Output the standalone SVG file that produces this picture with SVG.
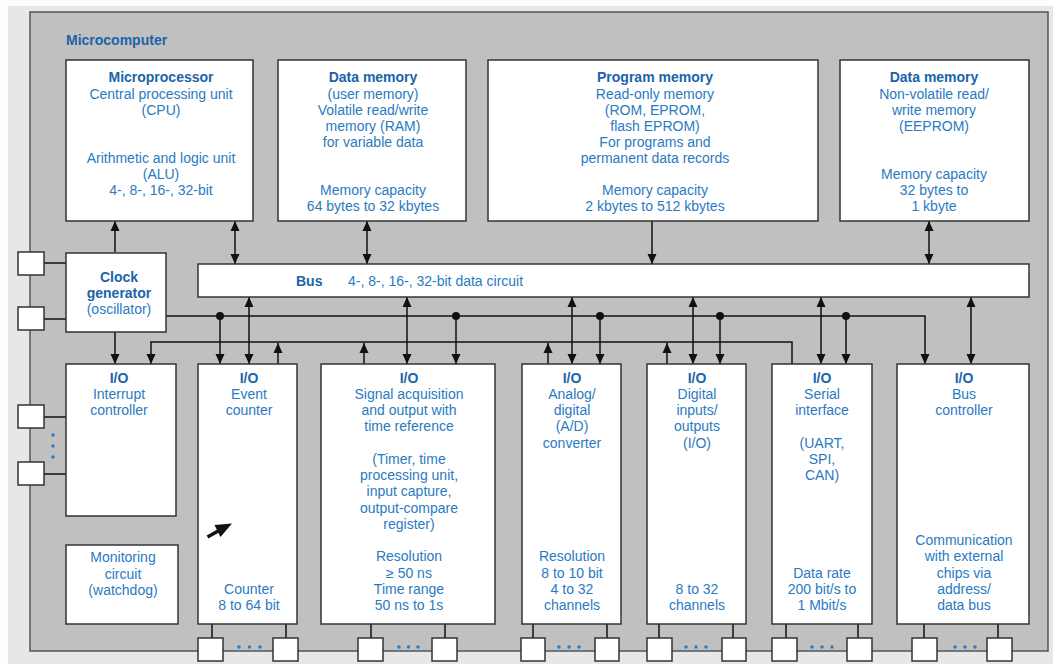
<svg xmlns="http://www.w3.org/2000/svg" width="1053" height="664" viewBox="0 0 1053 664">
<style>
.box{fill:#fff;stroke:#333;stroke-width:1.5}
.pin{fill:#fff;stroke:#333;stroke-width:1.5}
.t{font-family:"Liberation Sans",Arial,Helvetica,sans-serif;font-size:14px;fill:#2a7ac2;text-anchor:middle}
.b{font-weight:bold;fill:#1b63ab}
.s{text-anchor:start}
.c{stroke:#111;stroke-width:1.5;fill:none}
.da{marker-start:url(#ah);marker-end:url(#ah)}
.ea{marker-end:url(#ah)}
.dot{fill:#111}
.bd{fill:#2a7ac2}
</style>
<defs>
<marker id="ah" viewBox="0 0 10 10" refX="10" refY="5" markerWidth="10" markerHeight="10" markerUnits="userSpaceOnUse" orient="auto-start-reverse">
<path d="M0,0.5 L10,5 L0,9.5 z" fill="#111"/>
</marker>
</defs>
<rect x="0" y="0" width="1053" height="664" fill="#fdfdfd"/>
<rect x="8" y="6" width="1045" height="658" fill="#e7e7e7"/>
<rect id="microcomputer" x="30" y="12" width="1018" height="639" fill="#c0c0c0" stroke="#555" stroke-width="1.5"/>
<text class="t b s" x="66" y="45">Microcomputer</text>

<g id="connectors">
<path class="c ea" d="M115,252 V221"/>
<path class="c da" d="M235,221 V264"/>
<path class="c da" d="M367,221 V264"/>
<path class="c ea" d="M652,221 V264"/>
<path class="c da" d="M929,221 V264"/>
<path class="c" d="M44,263 H66 M44,319 H66"/>
<path class="c ea" d="M115,332 V364"/>
<path class="c ea" d="M166,316 H925 V364"/>
<path class="c ea" d="M220,316 V364"/>
<path class="c ea" d="M456,316 V364"/>
<path class="c ea" d="M600,316 V364"/>
<path class="c ea" d="M720,316 V364"/>
<path class="c ea" d="M846,316 V364"/>
<path class="c ea" d="M792,364 V342 H151 V364"/>
<path class="c ea" d="M278,364 V343"/>
<path class="c ea" d="M364,364 V343"/>
<path class="c ea" d="M548,364 V343"/>
<path class="c ea" d="M667,364 V343"/>
<path class="c da" d="M249,297 V364"/>
<path class="c da" d="M407,297 V364"/>
<path class="c da" d="M572,297 V364"/>
<path class="c da" d="M693,297 V364"/>
<path class="c da" d="M821,297 V364"/>
<path class="c da" d="M971,297 V364"/>
<path class="c" d="M44,417 H66 M44,474 H66"/>
<path class="c" d="M212,624 V638 M286,624 V638 M371,624 V638 M445,624 V638 M533,624 V638 M607,624 V638 M659,624 V638 M733,624 V638 M786,624 V638 M858,624 V638 M924,624 V638 M998,624 V638"/>
<circle class="dot" cx="220" cy="316" r="4"/>
<circle class="dot" cx="456" cy="316" r="4"/>
<circle class="dot" cx="600" cy="316" r="4"/>
<circle class="dot" cx="720" cy="316" r="4"/>
<circle class="dot" cx="846" cy="316" r="4"/>
</g>

<g id="microprocessor">
<rect class="box" x="66" y="60" width="187" height="161"/>
<text class="t b" x="161" y="82">Microprocessor</text>
<text class="t" x="161" y="99">Central processing unit</text>
<text class="t" x="161" y="115">(CPU)</text>
<text class="t" x="161" y="163">Arithmetic and logic unit</text>
<text class="t" x="161" y="179">(ALU)</text>
<text class="t" x="161" y="195">4-, 8-, 16-, 32-bit</text>
</g>

<g id="data-memory-ram">
<rect class="box" x="278" y="60" width="188" height="161"/>
<text class="t b" x="373" y="82">Data memory</text>
<text class="t" x="373" y="99">(user memory)</text>
<text class="t" x="373" y="115">Volatile read/write</text>
<text class="t" x="373" y="131">memory (RAM)</text>
<text class="t" x="373" y="147">for variable data</text>
<text class="t" x="373" y="195">Memory capacity</text>
<text class="t" x="373" y="211">64 bytes to 32 kbytes</text>
</g>

<g id="program-memory">
<rect class="box" x="488" y="60" width="330" height="161"/>
<text class="t b" x="655" y="82">Program memory</text>
<text class="t" x="655" y="99">Read-only memory</text>
<text class="t" x="655" y="115">(ROM, EPROM,</text>
<text class="t" x="655" y="131">flash EPROM)</text>
<text class="t" x="655" y="147">For programs and</text>
<text class="t" x="655" y="163">permanent data records</text>
<text class="t" x="655" y="195">Memory capacity</text>
<text class="t" x="655" y="211">2 kbytes to 512 kbytes</text>
</g>

<g id="data-memory-eeprom">
<rect class="box" x="840" y="60" width="189" height="161"/>
<text class="t b" x="934" y="82">Data memory</text>
<text class="t" x="934" y="99">Non-volatile read/</text>
<text class="t" x="934" y="115">write memory</text>
<text class="t" x="934" y="131">(EEPROM)</text>
<text class="t" x="934" y="179">Memory capacity</text>
<text class="t" x="934" y="195">32 bytes to</text>
<text class="t" x="934" y="211">1 kbyte</text>
</g>

<g id="clock-generator">
<rect class="box" x="66" y="253" width="100" height="79"/>
<text class="t b" x="119" y="282">Clock</text>
<text class="t b" x="119" y="298">generator</text>
<text class="t" x="119" y="314">(oscillator)</text>
<rect class="pin" x="18" y="252" width="26" height="23"/>
<rect class="pin" x="18" y="307" width="26" height="23"/>
</g>

<g id="bus">
<rect class="box" x="198" y="264" width="831" height="33"/>
<text class="t b s" x="296" y="286">Bus</text>
<text class="t s" x="348" y="286">4-, 8-, 16-, 32-bit data circuit</text>
</g>

<g id="interrupt-controller">
<rect class="box" x="66" y="364" width="110" height="152"/>
<text class="t b" x="119" y="382.5">I/O</text>
<text class="t" x="119" y="398.75">Interrupt</text>
<text class="t" x="119" y="415">controller</text>
<rect class="pin" x="18" y="405" width="26" height="23"/>
<rect class="pin" x="18" y="462" width="26" height="23"/>
<circle class="bd" cx="53" cy="435" r="1.7"/>
<circle class="bd" cx="53" cy="446" r="1.7"/>
<circle class="bd" cx="53" cy="457" r="1.7"/>
</g>

<g id="monitoring-circuit">
<rect class="box" x="66" y="545" width="112" height="79"/>
<text class="t" x="123" y="562">Monitoring</text>
<text class="t" x="123" y="578.5">circuit</text>
<text class="t" x="123" y="594.5">(watchdog)</text>
</g>

<g id="event-counter">
<rect class="box" x="198" y="364" width="99" height="260"/>
<text class="t b" x="249" y="382.5">I/O</text>
<text class="t" x="249" y="398.75">Event</text>
<text class="t" x="249" y="415">counter</text>
<text class="t" x="249" y="593.75">Counter</text>
<text class="t" x="249" y="610">8 to 64 bit</text>
<path d="M207.5,537 L219,530.5" stroke="#111" stroke-width="3.5" fill="none"/>
<path d="M232,523.5 L214.5,525 L220.5,537 z" fill="#111"/>
<rect class="pin" x="198" y="638" width="25" height="23"/>
<rect class="pin" x="273" y="638" width="25" height="23"/>
<circle class="bd" cx="239" cy="647" r="1.7"/>
<circle class="bd" cx="249.5" cy="647" r="1.7"/>
<circle class="bd" cx="260" cy="647" r="1.7"/>
</g>

<g id="signal-acquisition">
<rect class="box" x="321" y="364" width="174" height="260"/>
<text class="t b" x="409" y="382.5">I/O</text>
<text class="t" x="409" y="398.75">Signal acquisition</text>
<text class="t" x="409" y="415">and output with</text>
<text class="t" x="409" y="431.25">time reference</text>
<text class="t" x="409" y="463.75">(Timer, time</text>
<text class="t" x="409" y="480">processing unit,</text>
<text class="t" x="409" y="496.25">input capture,</text>
<text class="t" x="409" y="512.5">output-compare</text>
<text class="t" x="409" y="528.75">register)</text>
<text class="t" x="409" y="561.25">Resolution</text>
<text class="t" x="409" y="577.5">≥ 50 ns</text>
<text class="t" x="409" y="593.75">Time range</text>
<text class="t" x="409" y="610">50 ns to 1s</text>
<rect class="pin" x="358" y="638" width="25" height="23"/>
<rect class="pin" x="432" y="638" width="25" height="23"/>
<circle class="bd" cx="399" cy="647" r="1.7"/>
<circle class="bd" cx="408.5" cy="647" r="1.7"/>
<circle class="bd" cx="418" cy="647" r="1.7"/>
</g>

<g id="ad-converter">
<rect class="box" x="522" y="364" width="99" height="260"/>
<text class="t b" x="572" y="382.5">I/O</text>
<text class="t" x="572" y="398.75">Analog/</text>
<text class="t" x="572" y="415">digital</text>
<text class="t" x="572" y="431.25">(A/D)</text>
<text class="t" x="572" y="447.5">converter</text>
<text class="t" x="572" y="561.25">Resolution</text>
<text class="t" x="572" y="577.5">8 to 10 bit</text>
<text class="t" x="572" y="593.75">4 to 32</text>
<text class="t" x="572" y="610">channels</text>
<rect class="pin" x="521" y="638" width="24" height="23"/>
<rect class="pin" x="595" y="638" width="24" height="23"/>
<circle class="bd" cx="559" cy="647" r="1.7"/>
<circle class="bd" cx="569" cy="647" r="1.7"/>
<circle class="bd" cx="579" cy="647" r="1.7"/>
</g>

<g id="digital-io">
<rect class="box" x="647" y="364" width="99" height="260"/>
<text class="t b" x="697" y="382.5">I/O</text>
<text class="t" x="697" y="398.75">Digital</text>
<text class="t" x="697" y="415">inputs/</text>
<text class="t" x="697" y="431.25">outputs</text>
<text class="t" x="697" y="447.5">(I/O)</text>
<text class="t" x="697" y="593.75">8 to 32</text>
<text class="t" x="697" y="610">channels</text>
<rect class="pin" x="647" y="638" width="25" height="23"/>
<rect class="pin" x="722" y="638" width="24" height="23"/>
<circle class="bd" cx="686" cy="647" r="1.7"/>
<circle class="bd" cx="696" cy="647" r="1.7"/>
<circle class="bd" cx="706" cy="647" r="1.7"/>
</g>

<g id="serial-interface">
<rect class="box" x="772" y="364" width="100" height="260"/>
<text class="t b" x="822" y="382.5">I/O</text>
<text class="t" x="822" y="398.75">Serial</text>
<text class="t" x="822" y="415">interface</text>
<text class="t" x="822" y="447.5">(UART,</text>
<text class="t" x="822" y="463.75">SPI,</text>
<text class="t" x="822" y="480">CAN)</text>
<text class="t" x="822" y="577.5">Data rate</text>
<text class="t" x="822" y="593.75">200 bit/s to</text>
<text class="t" x="822" y="610">1 Mbit/s</text>
<rect class="pin" x="772" y="638" width="25" height="23"/>
<rect class="pin" x="847" y="638" width="25" height="23"/>
<circle class="bd" cx="812" cy="647" r="1.7"/>
<circle class="bd" cx="822" cy="647" r="1.7"/>
<circle class="bd" cx="832" cy="647" r="1.7"/>
</g>

<g id="bus-controller">
<rect class="box" x="897" y="364" width="132" height="260"/>
<text class="t b" x="964" y="382.5">I/O</text>
<text class="t" x="964" y="398.75">Bus</text>
<text class="t" x="964" y="415">controller</text>
<text class="t" x="964" y="545">Communication</text>
<text class="t" x="964" y="561.25">with external</text>
<text class="t" x="964" y="577.5">chips via</text>
<text class="t" x="964" y="593.75">address/</text>
<text class="t" x="964" y="610">data bus</text>
<rect class="pin" x="912" y="638" width="25" height="23"/>
<rect class="pin" x="987" y="638" width="25" height="23"/>
<circle class="bd" cx="955" cy="647" r="1.7"/>
<circle class="bd" cx="965" cy="647" r="1.7"/>
<circle class="bd" cx="975" cy="647" r="1.7"/>
</g>
</svg>
